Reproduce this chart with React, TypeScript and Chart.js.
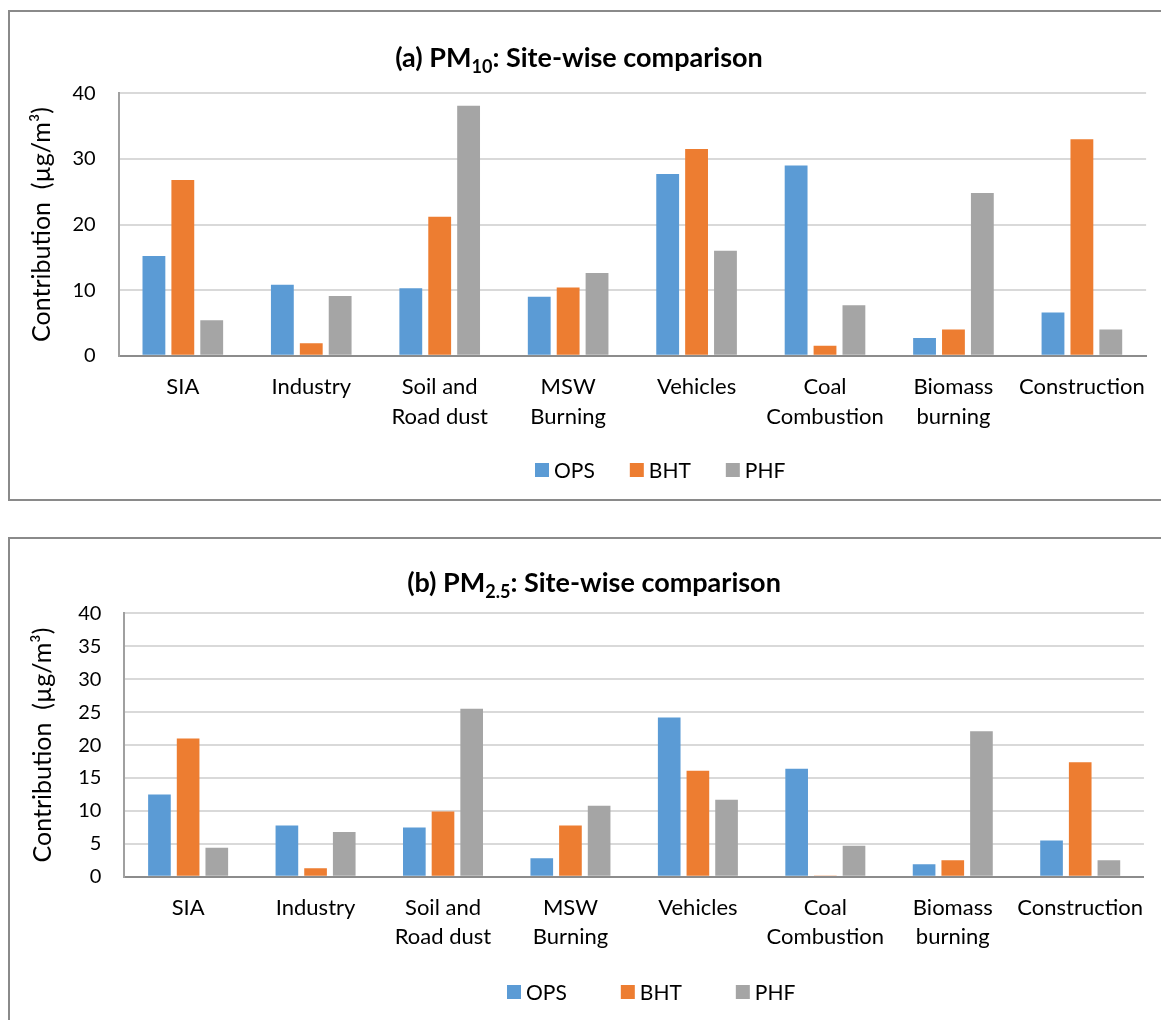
import React, { useEffect, useRef } from 'react';
import { Chart, registerables } from 'chart.js';

Chart.register(...registerables);

const FONT = 'Lato, "Noto Sans", sans-serif';

// ---- data ----
const categories: string[][] = [
  ['SIA'],
  ['Industry'],
  ['Soil and', 'Road dust'],
  ['MSW', 'Burning'],
  ['Vehicles'],
  ['Coal', 'Combustion'],
  ['Biomass', 'burning'],
  ['Construction'],
];
const seriesNames = ['OPS', 'BHT', 'PHF'];
const seriesColors = ['#5B9BD5', '#ED7D31', '#A5A5A5'];

const pm10OPS = [15.2, 10.8, 10.3, 9.0, 27.7, 29.0, 2.7, 6.6];
const pm10BHT = [26.8, 1.9, 21.2, 10.4, 31.5, 1.5, 4.0, 33.0];
const pm10PHF = [5.4, 9.1, 38.1, 12.6, 16.0, 7.7, 24.8, 4.0];

const pm25OPS = [12.5, 7.8, 7.5, 2.8, 24.2, 16.4, 1.9, 5.5];
const pm25BHT = [21.0, 1.3, 9.9, 7.8, 16.1, 0.2, 2.5, 17.4];
const pm25PHF = [4.4, 6.8, 25.5, 10.8, 11.7, 4.7, 22.1, 2.5];

const pm10YMax = 40;
const pm10YStep = 10;
const pm25YMax = 40;
const pm25YStep = 5;

const yAxisTitle = 'Contribution  (\u00b5g/m\u00b3)';

type Seg = { text: string; sub?: boolean };

const pm10Title: Seg[] = [
  { text: '(a) PM' },
  { text: '10', sub: true },
  { text: ': Site-wise comparison' },
];
const pm25Title: Seg[] = [
  { text: '(b) PM' },
  { text: '2.5', sub: true },
  { text: ': Site-wise comparison' },
];

interface PanelCfg {
  title: Seg[];
  series: number[][];
  yMax: number;
  yStep: number;
  w: number;
  h: number;
  padTop: number;
  padRight: number;
  padBottom: number;
  yWidth: number;
  xHeight: number;
  xTickPad: number;
  xLineHeight: number;
  legendX: number;
  legendY: number;
  legendGap: number;
  titleX: number;
  titleY: number;
  yTitleCenter: number;
}

const CAT_SIZE = 22;
const TICK_SIZE = 20;
const LEGEND_SIZE = 21;
const YTITLE_SIZE = 25;
const TITLE_SIZE = 27;
const TITLE_SUB_SIZE = 18;
const LEGEND_BOX = 14;
const LEGEND_BOX_TEXT_GAP = 5;

function makeTitlePlugin(segs: Seg[], cx: number, cy: number) {
  return {
    id: 'richTitle',
    afterDraw(chart: any) {
      const ctx = chart.ctx as CanvasRenderingContext2D;
      const mainFont = `bold ${TITLE_SIZE}px ${FONT}`;
      const subFont = `bold ${TITLE_SUB_SIZE}px ${FONT}`;
      ctx.save();
      let total = 0;
      const widths = segs.map((s) => {
        ctx.font = s.sub ? subFont : mainFont;
        const w = ctx.measureText(s.text).width;
        total += w;
        return w;
      });
      let x = cx - total / 2;
      const baseY = cy + TITLE_SIZE * 0.36;
      ctx.fillStyle = '#000';
      ctx.textAlign = 'left';
      ctx.textBaseline = 'alphabetic';
      segs.forEach((s, i) => {
        ctx.font = s.sub ? subFont : mainFont;
        ctx.fillText(s.text, x, s.sub ? baseY + 6 : baseY);
        x += widths[i];
      });
      ctx.restore();
    },
  };
}

// Legend built from the chart's own datasets (labels + colours)
function makeLegendPlugin(startX: number, cy: number, gap: number) {
  return {
    id: 'siteLegend',
    afterDraw(chart: any) {
      const ctx = chart.ctx as CanvasRenderingContext2D;
      ctx.save();
      ctx.font = `${LEGEND_SIZE}px ${FONT}`;
      ctx.textAlign = 'left';
      ctx.textBaseline = 'middle';
      let x = startX;
      chart.data.datasets.forEach((ds: any) => {
        ctx.fillStyle = ds.backgroundColor;
        ctx.fillRect(x, cy - LEGEND_BOX / 2, LEGEND_BOX, LEGEND_BOX);
        ctx.fillStyle = '#000';
        const tx = x + LEGEND_BOX + LEGEND_BOX_TEXT_GAP;
        ctx.fillText(ds.label, tx, cy + 1);
        x = tx + ctx.measureText(ds.label).width + gap;
      });
      ctx.restore();
    },
  };
}

function Panel({ cfg }: { cfg: PanelCfg }) {
  const ref = useRef<HTMLCanvasElement>(null);
  useEffect(() => {
    const canvas = ref.current!;
    const yTitleHalf = (YTITLE_SIZE * 1.2) / 2;
    const chart = new Chart(canvas, {
      type: 'bar',
      data: {
        labels: categories,
        datasets: seriesNames.map((name, i) => ({
          label: name,
          data: cfg.series[i],
          backgroundColor: seriesColors[i],
          borderWidth: 0,
          categoryPercentage: 0.675,
          barPercentage: 0.79,
        })),
      },
      options: {
        animation: false,
        responsive: false,
        devicePixelRatio: 1,
        layout: {
          padding: { top: cfg.padTop, left: 0, right: cfg.padRight, bottom: cfg.padBottom },
        },
        plugins: {
          legend: { display: false },
          title: { display: false },
          tooltip: { enabled: false },
        },
        scales: {
          x: {
            grid: { display: false, drawTicks: false },
            border: { display: true, color: '#8c8c8c', width: 2 },
            ticks: {
              color: '#000',
              padding: cfg.xTickPad,
              maxRotation: 0,
              autoSkip: false,
              font: { family: FONT, size: CAT_SIZE, lineHeight: cfg.xLineHeight },
            },
            afterFit: (s: any) => {
              s.height = cfg.xHeight;
            },
          },
          y: {
            min: 0,
            max: cfg.yMax,
            ticks: {
              stepSize: cfg.yStep,
              color: '#000',
              padding: 23,
              font: { family: FONT, size: TICK_SIZE },
            },
            grid: { color: '#d9d9d9', lineWidth: 2, drawTicks: false },
            border: { display: true, color: '#a0a0a0', width: 2 },
            title: {
              display: true,
              text: yAxisTitle,
              color: '#000',
              font: { family: FONT, size: YTITLE_SIZE, lineHeight: 1.2 },
              padding: { top: cfg.yTitleCenter - yTitleHalf, bottom: 0 },
            },
            afterFit: (s: any) => {
              s.width = cfg.yWidth;
            },
          },
        },
      },
      plugins: [
        makeTitlePlugin(cfg.title, cfg.titleX, cfg.titleY),
        makeLegendPlugin(cfg.legendX, cfg.legendY, cfg.legendGap),
      ],
    } as any);
    return () => chart.destroy();
  }, [cfg]);
  return (
    <canvas
      ref={ref}
      width={cfg.w}
      height={cfg.h}
      style={{ display: 'block', width: cfg.w, height: cfg.h }}
    />
  );
}

const topCfg: PanelCfg = {
  title: pm10Title,
  series: [pm10OPS, pm10BHT, pm10PHF],
  yMax: pm10YMax,
  yStep: pm10YStep,
  w: 1151,
  h: 487,
  padTop: 81.3,
  padRight: 4,
  padBottom: 68,
  yWidth: 108.6,
  xHeight: 75.3,
  xTickPad: 16,
  xLineHeight: 30 / CAT_SIZE,
  legendX: 525,
  legendY: 458,
  legendGap: 35,
  titleX: 569,
  titleY: 45,
  yTitleCenter: 32,
};

const bottomCfg: PanelCfg = {
  title: pm25Title,
  series: [pm25OPS, pm25BHT, pm25PHF],
  yMax: pm25YMax,
  yStep: pm25YStep,
  w: 1151,
  h: 481,
  padTop: 74.3,
  padRight: 10,
  padBottom: 68.2,
  yWidth: 114.4,
  xHeight: 75,
  xTickPad: 17.3,
  xLineHeight: 28.4 / CAT_SIZE,
  legendX: 497,
  legendY: 453,
  legendGap: 54,
  titleX: 584,
  titleY: 43,
  yTitleCenter: 33,
};

export default function App() {
  useEffect(() => {
    document.documentElement.style.overflow = 'hidden';
    document.body.style.overflow = 'hidden';
  }, []);
  return (
    <div style={{ paddingTop: 2, background: '#fff' }}>
      <div
        style={{
          borderTop: '2px solid #8a8a8a',
          borderLeft: '2px solid #8a8a8a',
          borderBottom: '2px solid #8a8a8a',
          height: 487,
          overflow: 'hidden',
          background: '#fff',
        }}
      >
        <Panel cfg={topCfg} />
      </div>
      <div
        style={{
          marginTop: 36,
          borderTop: '2px solid #8a8a8a',
          borderLeft: '2px solid #8a8a8a',
          height: 481,
          overflow: 'hidden',
          background: '#fff',
        }}
      >
        <Panel cfg={bottomCfg} />
      </div>
    </div>
  );
}
